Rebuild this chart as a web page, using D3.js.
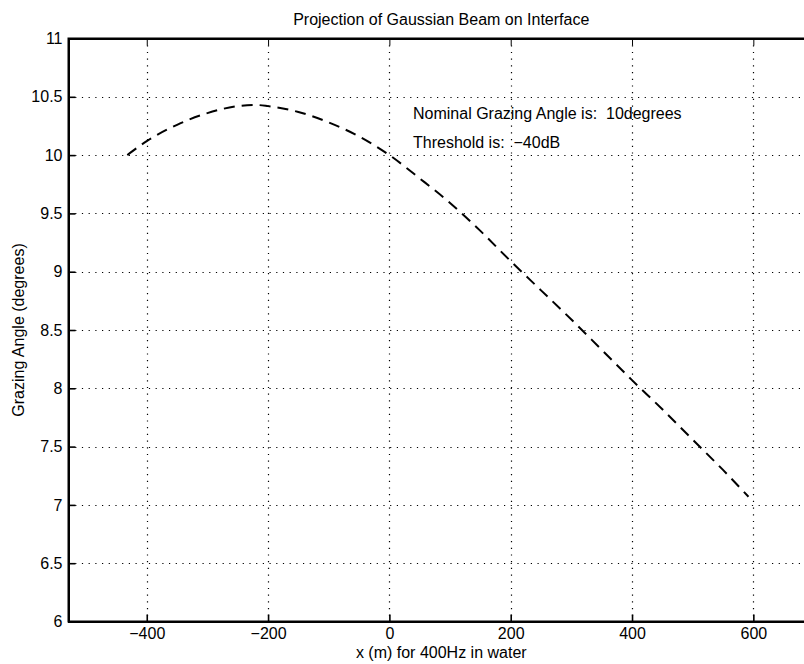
<html>
<head>
<meta charset="utf-8">
<style>
  body { margin: 0; background: #fff; }
  text { font-family: "Liberation Sans", Arial, sans-serif; fill: #000; white-space: pre; }
</style>
</head>
<body>
<script src="https://d3js.org/d3.v7.min.js"></script>
<svg id="chart" width="804" height="664"></svg>
<script>
// beam projection: x position (m) vs grazing angle (degrees)
const xPos = [-432, -400, -350, -300, -250, -220, -200, -150, -100, -50, 0, 50, 100, 150, 200, 250, 300, 350, 400, 450, 500, 550, 592];
const angle = [10.00, 10.12, 10.26, 10.36, 10.42, 10.43, 10.42, 10.37, 10.28, 10.16, 10.00, 9.80, 9.59, 9.35, 9.09, 8.84, 8.59, 8.33, 8.07, 7.82, 7.56, 7.30, 7.07];

const xTicks = [-400, -200, 0, 200, 400, 600];
const yTicks = [6, 6.5, 7, 7.5, 8, 8.5, 9, 9.5, 10, 10.5, 11];

const titleText = "Projection of Gaussian Beam on Interface";
const xLabel = "x (m) for 400Hz in water";
const yLabel = "Grazing Angle (degrees)";
const notes = ["Nominal Grazing Angle is:  10degrees", "Threshold is:  \u221240dB"];

const svg = d3.select("#chart");
const mLeft = 68.5, mTop = 38.5, mBottom = 621.5, mRight = 814;
const fs = 16;

const x = d3.scaleLinear().domain([-529, 700]).range([mLeft, mRight]);
const y = d3.scaleLinear().domain([6, 11]).range([mBottom, mTop]);

// grid
const grid = svg.append("g").attr("stroke", "#000").attr("stroke-width", 1.2)
  .attr("stroke-dasharray", "1.2,5.5");
grid.selectAll(".gx").data(xTicks).join("line")
  .attr("x1", d => Math.round(x(d)) + 0.5).attr("x2", d => Math.round(x(d)) + 0.5)
  .attr("y1", mTop).attr("y2", mBottom);
grid.selectAll(".gy").data(yTicks.slice(1, -1)).join("line")
  .attr("y1", d => Math.round(y(d)) + 0.5).attr("y2", d => Math.round(y(d)) + 0.5)
  .attr("x1", mLeft).attr("x2", mRight);

// axes
const xAxis = d3.axisBottom(x).tickValues(xTicks).tickSize(-7).tickPadding(6);
const yAxis = d3.axisLeft(y).tickValues(yTicks).tickSize(-7).tickPadding(6)
  .tickFormat(d3.format("~g"));

const gx = svg.append("g").attr("transform", `translate(0,${mBottom})`).call(xAxis);
const gy = svg.append("g").attr("transform", `translate(${mLeft},0)`).call(yAxis);
svg.append("g").attr("transform", `translate(0,${mTop})`)
  .call(d3.axisTop(x).tickValues(xTicks).tickSize(-7).tickFormat(""));

[gx, gy].forEach(g => {
  g.selectAll("text").attr("font-size", fs).attr("font-family", null)
    .text(function() { return d3.select(this).text().replace("-", "\u2212"); });
  g.selectAll("line").attr("stroke-width", 1.6);
});
svg.selectAll(".domain").attr("stroke-width", 2);

// box
svg.append("rect").attr("x", mLeft).attr("y", mTop)
  .attr("width", mRight - mLeft).attr("height", mBottom - mTop)
  .attr("fill", "none").attr("stroke", "#000").attr("stroke-width", 2);

// curve
const line = d3.line().x((d, i) => x(xPos[i])).y(d => y(d)).curve(d3.curveMonotoneX);
svg.append("path").datum(angle)
  .attr("d", line)
  .attr("fill", "none").attr("stroke", "#000").attr("stroke-width", 2)
  .attr("stroke-dasharray", "11,7");

// labels
const cx = (mLeft + mRight) / 2;
svg.append("text").attr("x", cx).attr("y", 25).attr("text-anchor", "middle")
  .attr("font-size", fs).text(titleText);
svg.append("text").attr("x", cx).attr("y", 658).attr("text-anchor", "middle")
  .attr("font-size", fs).text(xLabel);
svg.append("text").attr("transform", `translate(24,${(mTop + mBottom) / 2}) rotate(-90)`)
  .attr("text-anchor", "middle").attr("font-size", fs).text(yLabel);

svg.selectAll(".note").data(notes).join("text")
  .attr("x", 413).attr("y", (d, i) => 119 + i * 29)
  .attr("font-size", fs).text(d => d);
</script>
</body>
</html>
